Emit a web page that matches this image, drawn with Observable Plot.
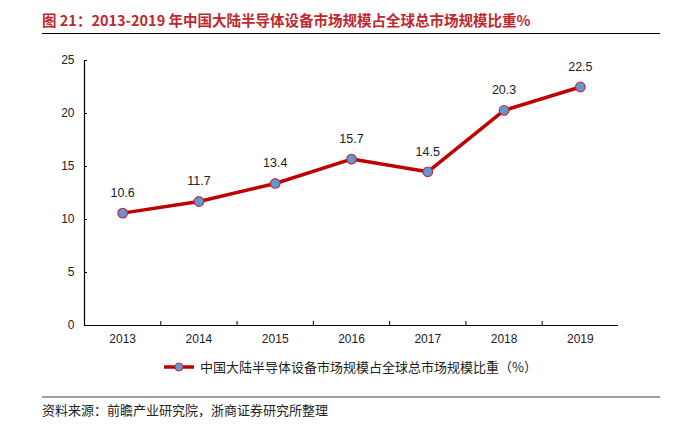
<!DOCTYPE html>
<html>
<head>
<meta charset="utf-8">
<script src="https://cdn.jsdelivr.net/npm/d3@7"></script>
<script src="https://cdn.jsdelivr.net/npm/@observablehq/plot@0.6"></script>
<style>
  body { margin: 0; background: #fff; }
  #wrap { position: relative; width: 673px; height: 425px; overflow: hidden; font-family: "Liberation Sans", Arial, sans-serif; }
  #title { position: absolute; left: 42px; top: 10px; font: bold 14.5px/20px "Noto Sans CJK SC", sans-serif; color: #c0282d; white-space: nowrap; }
  #rule1 { position: absolute; left: 42px; top: 33px; width: 618px; height: 1px; background: #000; }
  #chart { position: absolute; left: 0; top: 40px; }
  #legend { position: absolute; left: 163px; top: 359px; height: 16px; display: flex; align-items: center; font: 13px/16px "Noto Sans CJK SC", sans-serif; color: #222; white-space: nowrap; }
  #legend svg { margin-right: 5px; }
  #rule2 { position: absolute; left: 42px; top: 396px; width: 618px; height: 2px; background: #a0a0a0; }
  #source { position: absolute; left: 42px; top: 402px; font: 13px/16px "Noto Sans CJK SC", sans-serif; color: #222; white-space: nowrap; }
</style>
</head>
<body>
<div id="wrap">
  <div id="title"></div>
  <div id="rule1"></div>
  <div id="chart"></div>
  <div id="legend"></div>
  <div id="rule2"></div>
  <div id="source"></div>
</div>
<script>
const titleText = "图 21：2013-2019 年中国大陆半导体设备市场规模占全球总市场规模比重%";
const seriesName = "中国大陆半导体设备市场规模占全球总市场规模比重（%）";
const sourceText = "资料来源：前瞻产业研究院，浙商证券研究所整理";
const years = [2013, 2014, 2015, 2016, 2017, 2018, 2019];
const shares = [10.6, 11.7, 13.4, 15.7, 14.5, 20.3, 22.5];
const yTicks = [0, 5, 10, 15, 20, 25];

const lineColor = "#c00000";
const dotColor = "#5b9bd5";

document.getElementById("title").textContent = titleText;
document.getElementById("source").textContent = sourceText;

const data = years.map((y, i) => ({year: y, value: shares[i]}));
const boundaries = years.slice(0, -1).map(y => y + 0.5);
const xDomain = [years[0] - 0.5, years[years.length - 1] + 0.5];

const chart = Plot.plot({
  width: 673,
  height: 315,
  marginTop: 20,
  marginBottom: 30,
  marginLeft: 84,
  marginRight: 55,
  style: {fontFamily: "Liberation Sans, Arial, sans-serif", fontSize: "12px", color: "#222", background: "transparent"},
  x: {type: "linear", domain: xDomain, label: null},
  y: {domain: [0, 25], label: null},
  marks: [
    Plot.axisY(yTicks, {anchor: "left", tickSize: 3, dx: 3, tickPadding: 10, stroke: "#000", fontSize: 12, fill: "#222", label: null}),
    Plot.axisX(boundaries, {anchor: "bottom", tickSize: 4, dy: -4, tickFormat: () => "", stroke: "#000", label: null}),
    Plot.axisX(years, {anchor: "bottom", tickSize: 0, tickPadding: 9, tickFormat: d => String(d), fontSize: 12, fill: "#222", label: null}),
    Plot.ruleX([xDomain[0]], {stroke: "#000", strokeWidth: 1.2}),
    Plot.ruleY([0], {stroke: "#000", strokeWidth: 1.2}),
    Plot.line(data, {x: "year", y: "value", stroke: lineColor, strokeWidth: 3.5, strokeLinejoin: "round"}),
    Plot.dot(data, {x: "year", y: "value", r: 4.8, fill: dotColor, stroke: "#d0263a", strokeWidth: 1.2}),
    Plot.text(data, {x: "year", y: "value", text: d => d.value.toFixed(1), dy: -20, fontSize: 12.5, fill: "#222"})
  ]
});
document.getElementById("chart").appendChild(chart);

const legend = document.getElementById("legend");
const ns = "http://www.w3.org/2000/svg";
const ls = document.createElementNS(ns, "svg");
ls.setAttribute("width", "32");
ls.setAttribute("height", "12");
const ln = document.createElementNS(ns, "line");
ln.setAttribute("x1", "1"); ln.setAttribute("x2", "31"); ln.setAttribute("y1", "6"); ln.setAttribute("y2", "6");
ln.setAttribute("stroke", lineColor); ln.setAttribute("stroke-width", "3.5");
const c = document.createElementNS(ns, "circle");
c.setAttribute("cx", "16"); c.setAttribute("cy", "6"); c.setAttribute("r", "4");
c.setAttribute("fill", dotColor); c.setAttribute("stroke", "#d0263a"); c.setAttribute("stroke-width", "1");
ls.appendChild(ln); ls.appendChild(c);
legend.appendChild(ls);
const lt = document.createElement("span");
lt.textContent = seriesName;
legend.appendChild(lt);
</script>
</body>
</html>
